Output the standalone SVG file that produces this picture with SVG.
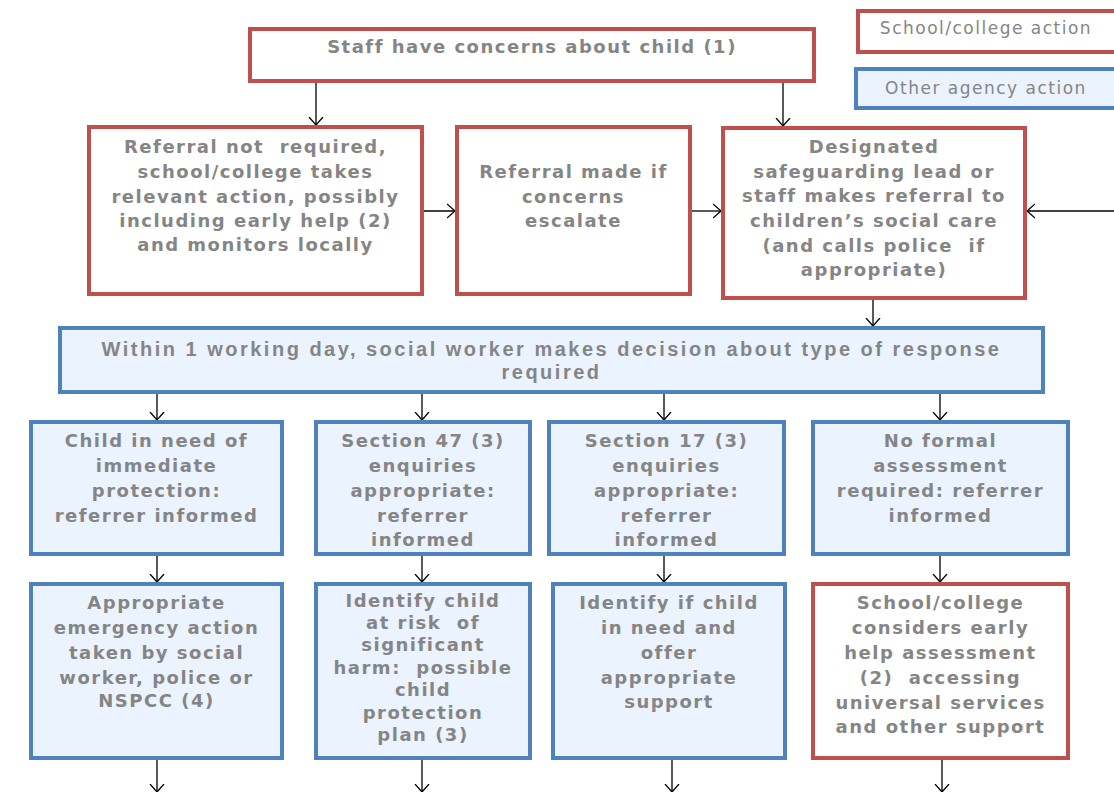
<svg xmlns="http://www.w3.org/2000/svg" width="1114" height="792" viewBox="0 0 1114 792">
<style>
.red{fill:#ffffff;stroke:#C0504D;stroke-width:4}
.blue{fill:#EAF3FE;stroke:#4F81BD;stroke-width:4}
.t{font-family:"DejaVu Sans",Verdana,sans-serif;font-weight:bold;font-size:18px;fill:#858585;text-anchor:middle;letter-spacing:1.5px}
.w{font-family:"Liberation Sans",Arial,sans-serif;font-weight:bold;font-size:20px;fill:#858585;text-anchor:middle;letter-spacing:2.5px}
.lg{font-family:"DejaVu Sans",Verdana,sans-serif;font-size:17px;fill:#858585;text-anchor:middle;letter-spacing:1.5px}
.c{stroke:#000;stroke-width:1.3;fill:none}
</style>
<defs>
<marker id="ah" markerWidth="16" markerHeight="16" refX="8" refY="8" orient="auto" markerUnits="userSpaceOnUse">
<polyline points="0,1 8,8 0,15" fill="none" stroke="#000" stroke-width="1.3"/>
</marker>
</defs>
<rect width="1114" height="792" fill="#ffffff"/>
<g id="legend-school">
<rect class="red" x="858" y="11" width="270" height="41"/>
<text class="lg" x="986" y="34">School/college action</text>
</g>
<g id="legend-agency">
<rect class="blue" x="856" y="69" width="270" height="39"/>
<text class="lg" x="986" y="94">Other agency action</text>
</g>
<g id="connectors">
<line class="c" x1="316" y1="81" x2="316" y2="125" marker-end="url(#ah)"/>
<line class="c" x1="783" y1="81" x2="783" y2="126" marker-end="url(#ah)"/>
<line class="c" x1="422" y1="211" x2="455" y2="211" marker-end="url(#ah)"/>
<line class="c" x1="690" y1="211" x2="721" y2="211" marker-end="url(#ah)"/>
<line class="c" x1="1114" y1="211" x2="1027" y2="211" marker-end="url(#ah)"/>
<line class="c" x1="873" y1="298" x2="873" y2="326" marker-end="url(#ah)"/>
<line class="c" x1="157" y1="392" x2="157" y2="420" marker-end="url(#ah)"/>
<line class="c" x1="422" y1="392" x2="422" y2="420" marker-end="url(#ah)"/>
<line class="c" x1="664" y1="392" x2="664" y2="420" marker-end="url(#ah)"/>
<line class="c" x1="940" y1="392" x2="940" y2="420" marker-end="url(#ah)"/>
<line class="c" x1="157" y1="554" x2="157" y2="582" marker-end="url(#ah)"/>
<line class="c" x1="422" y1="554" x2="422" y2="582" marker-end="url(#ah)"/>
<line class="c" x1="664" y1="554" x2="664" y2="582" marker-end="url(#ah)"/>
<line class="c" x1="940" y1="554" x2="940" y2="582" marker-end="url(#ah)"/>
<line class="c" x1="157" y1="758" x2="157" y2="792" marker-end="url(#ah)"/>
<line class="c" x1="422" y1="758" x2="422" y2="792" marker-end="url(#ah)"/>
<line class="c" x1="672" y1="758" x2="672" y2="792" marker-end="url(#ah)"/>
<line class="c" x1="942" y1="758" x2="942" y2="792" marker-end="url(#ah)"/>
</g>
<g id="staff-concerns">
<rect class="red" x="250" y="29" width="564" height="52"/>
<text class="t" x="532" y="53">Staff have concerns about child (1)</text>
</g>
<g id="referral-not-required">
<rect class="red" x="89" y="127" width="333" height="167"/>
<text class="t" x="255.5" y="153" xml:space="preserve">Referral not  required,</text>
<text class="t" x="255.5" y="178">school/college takes</text>
<text class="t" x="255.5" y="203">relevant action, possibly</text>
<text class="t" x="255.5" y="227">including early help (2)</text>
<text class="t" x="255.5" y="251">and monitors locally</text>
</g>
<g id="referral-if-escalate">
<rect class="red" x="457" y="127" width="233" height="167"/>
<text class="t" x="573.5" y="178">Referral made if</text>
<text class="t" x="573.5" y="203">concerns</text>
<text class="t" x="573.5" y="227">escalate</text>
</g>
<g id="dsl-referral">
<rect class="red" x="723" y="128" width="302" height="170"/>
<text class="t" x="874" y="153">Designated</text>
<text class="t" x="874" y="178">safeguarding lead or</text>
<text class="t" x="874" y="202">staff makes referral to</text>
<text class="t" x="874" y="227">children’s social care</text>
<text class="t" x="874" y="252" xml:space="preserve">(and calls police  if</text>
<text class="t" x="874" y="276">appropriate)</text>
</g>
<g id="social-worker-decision">
<rect class="blue" x="60" y="328" width="983" height="64"/>
<text class="w" x="551.5" y="356">Within 1 working day, social worker makes decision about type of response</text>
<text class="w" x="551.5" y="379">required</text>
</g>
<g id="immediate-protection">
<rect class="blue" x="31" y="422" width="251" height="132"/>
<text class="t" x="156.5" y="447">Child in need of</text>
<text class="t" x="156.5" y="472">immediate</text>
<text class="t" x="156.5" y="497">protection:</text>
<text class="t" x="156.5" y="522">referrer informed</text>
</g>
<g id="section-47">
<rect class="blue" x="316" y="422" width="214" height="132"/>
<text class="t" x="423" y="447">Section 47 (3)</text>
<text class="t" x="423" y="472">enquiries</text>
<text class="t" x="423" y="497">appropriate:</text>
<text class="t" x="423" y="522">referrer</text>
<text class="t" x="423" y="546">informed</text>
</g>
<g id="section-17">
<rect class="blue" x="549" y="422" width="235" height="132"/>
<text class="t" x="666.5" y="447">Section 17 (3)</text>
<text class="t" x="666.5" y="472">enquiries</text>
<text class="t" x="666.5" y="497">appropriate:</text>
<text class="t" x="666.5" y="522">referrer</text>
<text class="t" x="666.5" y="546">informed</text>
</g>
<g id="no-formal-assessment">
<rect class="blue" x="813" y="422" width="255" height="132"/>
<text class="t" x="940.5" y="447">No formal</text>
<text class="t" x="940.5" y="472">assessment</text>
<text class="t" x="940.5" y="497">required: referrer</text>
<text class="t" x="940.5" y="522">informed</text>
</g>
<g id="emergency-action">
<rect class="blue" x="31" y="584" width="251" height="174"/>
<text class="t" x="156.5" y="609">Appropriate</text>
<text class="t" x="156.5" y="634">emergency action</text>
<text class="t" x="156.5" y="659">taken by social</text>
<text class="t" x="156.5" y="684">worker, police or</text>
<text class="t" x="156.5" y="707">NSPCC (4)</text>
</g>
<g id="child-protection-plan">
<rect class="blue" x="316" y="584" width="214" height="174"/>
<text class="t" x="423" y="607">Identify child</text>
<text class="t" x="423" y="629" xml:space="preserve">at risk  of</text>
<text class="t" x="423" y="651">significant</text>
<text class="t" x="423" y="674" xml:space="preserve">harm:  possible</text>
<text class="t" x="423" y="696">child</text>
<text class="t" x="423" y="719">protection</text>
<text class="t" x="423" y="741">plan (3)</text>
</g>
<g id="child-in-need">
<rect class="blue" x="553" y="584" width="232" height="174"/>
<text class="t" x="669" y="609">Identify if child</text>
<text class="t" x="669" y="634">in need and</text>
<text class="t" x="669" y="659">offer</text>
<text class="t" x="669" y="684">appropriate</text>
<text class="t" x="669" y="708">support</text>
</g>
<g id="early-help-assessment">
<rect class="red" x="813" y="584" width="255" height="174"/>
<text class="t" x="940.5" y="609">School/college</text>
<text class="t" x="940.5" y="634">considers early</text>
<text class="t" x="940.5" y="659">help assessment</text>
<text class="t" x="940.5" y="684" xml:space="preserve">(2)  accessing</text>
<text class="t" x="940.5" y="709">universal services</text>
<text class="t" x="940.5" y="733">and other support</text>
</g>
</svg>
